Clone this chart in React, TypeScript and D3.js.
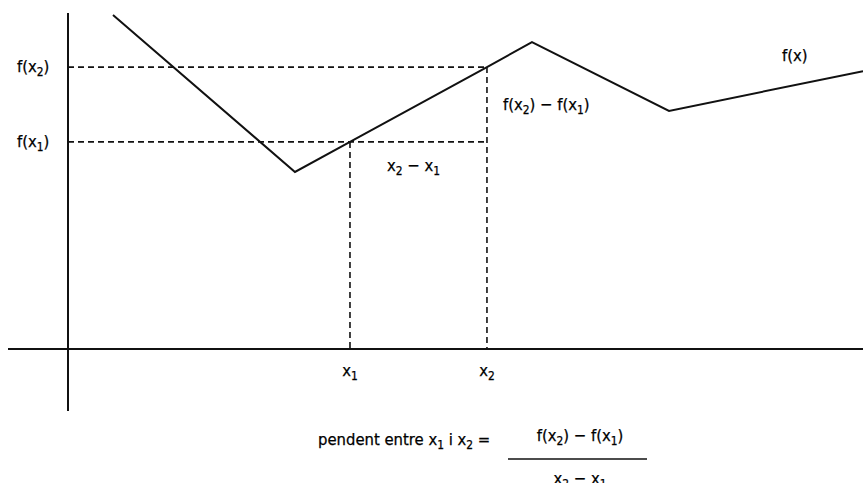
import React from "react";
import * as d3 from "d3";

const curveX = [5.66, 28.55, 35.47, 52.7, 58.36, 75.6, 100];
const curveY = [100, 53.0, 62.0, 84.4, 91.9, 71.3, 83.2];
const x1 = 35.47;
const x2 = 52.7;
const fx1 = 62.0;
const fx2 = 84.4;

const W = 863;
const H = 483;
const FONT = "'Liberation Sans Narrow', 'DejaVu Sans Condensed', 'Arial Narrow', sans-serif";

type Part = [string, boolean];

function Label({ x, y, parts, anchor = "start", size = 16.5 }: { x: number; y: number; parts: Part[]; anchor?: string; size?: number }) {
  const kids: React.ReactNode[] = [];
  let sub = false;
  parts.forEach(([t, s], i) => {
    let dy = 0;
    if (s && !sub) dy = 4;
    if (!s && sub) dy = -4;
    sub = s;
    kids.push(
      <tspan key={i} dy={dy} fontSize={s ? size * 0.72 : size}>
        {t}
      </tspan>
    );
  });
  return (
    <text x={x} y={y} textAnchor={anchor as any} fontFamily={FONT} fontSize={size} fill="#000" stroke="#000" strokeWidth={0.25} style={{ fontStretch: "condensed" }}>
      {kids}
    </text>
  );
}

export default function App() {
  const xs = d3.scaleLinear().domain([0, 100]).range([68, 863]);
  const ys = d3.scaleLinear().domain([0, 100]).range([349, 15]);
  const pts = curveX.map((x, i) => [xs(x), ys(curveY[i])] as [number, number]);
  const line = d3.line()(pts) as string;
  const dash = "6,4";
  return (
    <svg width={W} height={H} style={{ position: "absolute", left: 0, top: 0, background: "#fff" }}>
      <rect x={0} y={0} width={W} height={H} fill="#fff" />
      {/* axes */}
      <line x1={8} x2={863} y1={ys(0)} y2={ys(0)} stroke="#111" strokeWidth={2} />
      <line x1={xs(0)} x2={xs(0)} y1={13} y2={411} stroke="#111" strokeWidth={2} />
      {/* dashed guides */}
      <line x1={xs(0)} x2={xs(x2)} y1={ys(fx2)} y2={ys(fx2)} stroke="#111" strokeWidth={1.6} strokeDasharray={dash} />
      <line x1={xs(0)} x2={xs(x2)} y1={ys(fx1)} y2={ys(fx1)} stroke="#111" strokeWidth={1.6} strokeDasharray={dash} />
      <line x1={xs(x1)} x2={xs(x1)} y1={ys(fx1)} y2={ys(0)} stroke="#111" strokeWidth={1.6} strokeDasharray={dash} />
      <line x1={xs(x2)} x2={xs(x2)} y1={ys(fx2)} y2={ys(0)} stroke="#111" strokeWidth={1.6} strokeDasharray={dash} />
      {/* curve */}
      <path d={line} fill="none" stroke="#111" strokeWidth={2} strokeLinejoin="miter" />
      {/* labels */}
      <Label x={17} y={ys(fx2) + 5} parts={[["f(x", false], ["2", true], [")", false]]} />
      <Label x={17} y={ys(fx1) + 5} parts={[["f(x", false], ["1", true], [")", false]]} />
      <Label x={xs(x1)} y={376} anchor="middle" parts={[["x", false], ["1", true]]} />
      <Label x={xs(x2)} y={376} anchor="middle" parts={[["x", false], ["2", true]]} />
      <Label x={387} y={171} parts={[["x", false], ["2", true], [" − x", false], ["1", true]]} />
      <Label x={503} y={110} parts={[["f(x", false], ["2", true], [") − f(x", false], ["1", true], [")", false]]} />
      <Label x={782} y={61} parts={[["f(x)", false]]} />
      {/* formula */}
      <Label x={318} y={445} parts={[["pendent entre x", false], ["1", true], [" i x", false], ["2", true], [" =", false]]} />
      <Label x={580} y={441} anchor="middle" parts={[["f(x", false], ["2", true], [") − f(x", false], ["1", true], [")", false]]} />
      <line x1={508} x2={647} y1={459} y2={459} stroke="#111" strokeWidth={1.6} />
      <Label x={580} y={484} anchor="middle" parts={[["x", false], ["2", true], [" − x", false], ["1", true]]} />
    </svg>
  );
}
